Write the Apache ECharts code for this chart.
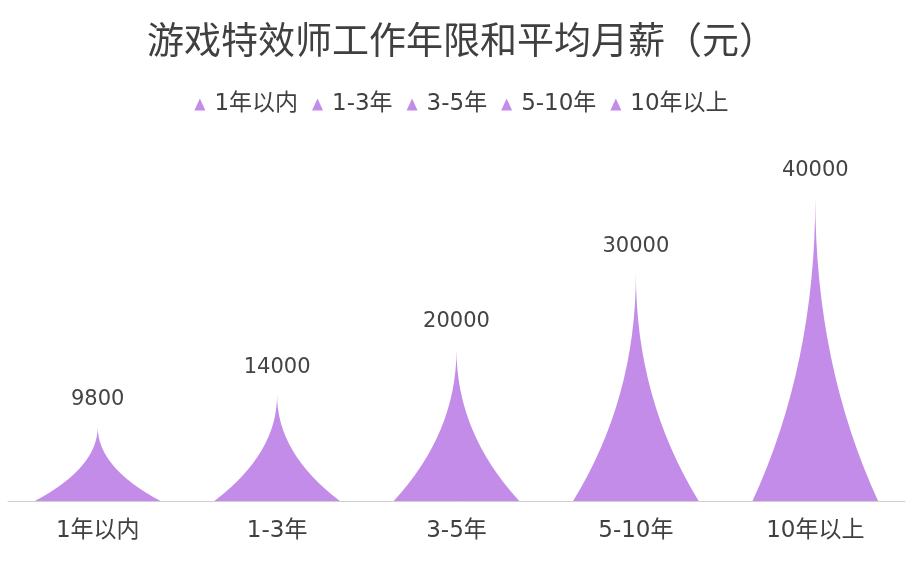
<!DOCTYPE html>
<html>
<head>
<meta charset="utf-8">
<title>游戏特效师工作年限和平均月薪</title>
<script src="https://cdn.jsdelivr.net/npm/echarts@6/dist/echarts.min.js"></script>
<style>
  html, body { margin: 0; padding: 0; background: #fff; }
  #charts { width: 923px; height: 567px; }
</style>
</head>
<body>
<div id="charts"></div>
<script>
// 数据
var categories = ['1年以内', '1-3年', '3-5年', '5-10年', '10年以上'];
var salaries = [9800, 14000, 20000, 30000, 40000];

// 尖角形状
var spike = 'path://M0,10 L10,10 Q5,5.5 5,0 Q5,5.5 0,10 z';
var purple = '#c38ce8';
var font = '"DejaVu Sans", "Noto Sans CJK SC", sans-serif';

var chart = echarts.init(document.getElementById('charts'));

// 每个分类一个系列，这样图例能显示五项
var series = categories.map(function (name, i) {
    var data = categories.map(function (c, j) { return j === i ? salaries[i] : '-'; });
    return {
        name: name,
        type: 'pictorialBar',
        symbol: spike,
        barCategoryGap: '30%',
        barGap: '-100%',
        itemStyle: { color: purple },
        label: {
            show: true,
            position: 'top',
            distance: 17,
            fontSize: 21,
            fontFamily: font,
            color: '#444'
        },
        data: data
    };
});

var option = {
    backgroundColor: '#fff',
    title: {
        text: '游戏特效师工作年限和平均月薪（元）',
        left: 'center',
        top: 16,
        textStyle: { fontSize: 37, fontWeight: 'normal', color: '#404040', fontFamily: '"Noto Sans CJK SC", sans-serif' }
    },
    legend: {
        data: categories,
        top: 88,
        left: 'center',
        icon: 'triangle',
        itemWidth: 11,
        itemHeight: 12,
        itemGap: 14,
        textStyle: { fontSize: 23, color: '#404040', fontFamily: font, padding: [0, 0, 0, 4] }
    },
    grid: { left: 8, right: 18, top: 198, bottom: 66 },
    xAxis: {
        type: 'category',
        data: categories,
        axisLine: { lineStyle: { color: '#d0d0d0' } },
        axisTick: { length: 10, lineStyle: { color: '#d0d0d0' } },
        axisLabel: { fontSize: 23, color: '#404040', margin: 19, fontFamily: font }
    },
    yAxis: {
        type: 'value',
        min: 0,
        max: 40000,
        show: false,
        splitLine: { show: false }
    },
    series: series
};
chart.setOption(option);
</script>
</body>
</html>
